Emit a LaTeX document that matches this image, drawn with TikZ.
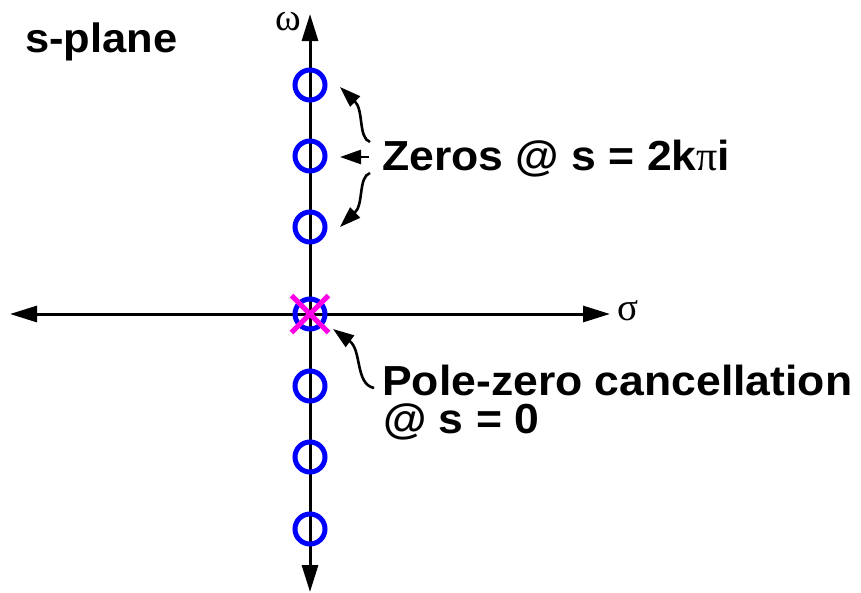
\documentclass[tikz,border=0pt]{standalone}
\usepackage{fontspec}
\setmainfont[FakeStretch=1.06]{Liberation Sans}
\newfontfamily\serifgr{Liberation Serif}
\usetikzlibrary{arrows.meta,shapes.misc}
\definecolor{zblue}{RGB}{0,0,255}
\definecolor{pmag}{RGB}{255,0,230}
\begin{document}
\begin{tikzpicture}[x=1pt,y=-1pt,
  axis/.style={line width=3pt,-{Triangle[length=27pt,width=16pt]}},
  zero/.style={circle,draw=zblue,line width=5pt,minimum size=30pt,inner sep=0pt},
  pole/.style={cross out,draw=pmag,line width=5pt,minimum size=32pt,inner sep=0pt},
  note/.style={line width=2.6pt,-{Triangle[length=21pt,width=14pt]}},
  lbl/.style={inner sep=0pt,anchor=base west,font=\fontsize{42}{42}\selectfont\bfseries},
  greek/.style={inner sep=0pt,font=\serifgr\fontsize{39}{39}\selectfont}]
\useasboundingbox (0,0) rectangle (861,592);
\coordinate (O) at (310,314);
\coordinate (L) at (10,314);
\coordinate (R) at (610,314);
\coordinate (T) at (310,14);
\coordinate (B) at (310,592);
\draw[axis] (O) -- (L);
\draw[axis] (O) -- (R);
\draw[axis] (O) -- (T);
\draw[axis] (O) -- (B);
\node[greek] (sig) at (628,311) {σ};
\node[greek] (omg) at (288,22) {ω};
\node[zero] (z1) at (310,85) {};
\node[zero] (z2) at (310,156) {};
\node[zero] (z3) at (310,227) {};
\node[zero] (z0) at (310,314) {};
\node[zero] (z4) at (310,386) {};
\node[zero] (z5) at (310,457) {};
\node[zero] (z6) at (310,529) {};
\node[pole] (p0) at (310,314) {};
\node[lbl,font=\fontsize{41}{41}\selectfont\bfseries] (title) at (25,52) {s-plane};
\node[lbl] (zeros) at (382,170) {Zeros @ s = 2k{\serifgr\mdseries π}i};
\node[lbl] (canc) at (382,395) {Pole-zero cancellation};
\node[lbl] (canc2) at (383,433) {@ s = 0};
\coordinate (a1) at (370,142);
\coordinate (a1t) at (340,87);
\coordinate (a2) at (369,157);
\coordinate (a2t) at (340,157);
\coordinate (a3) at (370,173);
\coordinate (a3t) at (340,227);
\coordinate (a4) at (374,388);
\coordinate (a4t) at (333,329);
\draw[note] (a1) .. controls (358,138) and (364,110) .. (a1t);
\draw[note] (a2) -- (a2t);
\draw[note] (a3) .. controls (358,177) and (364,204) .. (a3t);
\draw[note] (a4) .. controls (355,384) and (362,350) .. (a4t);
\end{tikzpicture}
\end{document}
